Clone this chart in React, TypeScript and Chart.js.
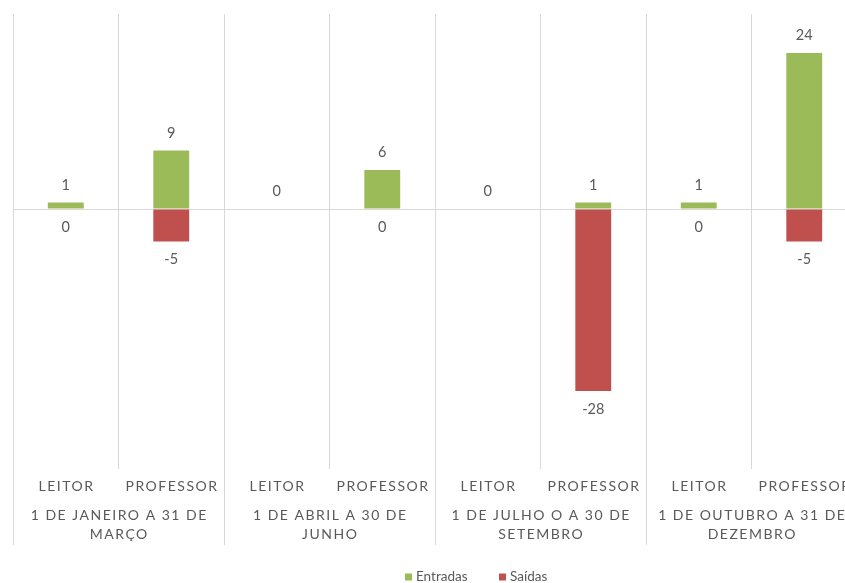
import React, { useEffect, useRef } from "react";
import { Chart, registerables } from "chart.js";

Chart.register(...registerables);

const leafLabels = ["LEITOR", "PROFESSOR", "LEITOR", "PROFESSOR", "LEITOR", "PROFESSOR", "LEITOR", "PROFESSOR"];
const groupLabels = [
  ["1 DE JANEIRO A 31 DE", "MARÇO"],
  ["1 DE ABRIL A 30 DE", "JUNHO"],
  ["1 DE JULHO O A 30 DE", "SETEMBRO"],
  ["1 DE OUTUBRO A 31 DE", "DEZEMBRO"],
];
const entradas: (number | null)[] = [1, 9, 0, 6, 0, 1, 1, 24];
const saidas: (number | null)[] = [0, -5, null, 0, null, -28, 0, -5];
const seriesNames = ["Entradas", "Saídas"];
const seriesColors = ["#9BBB59", "#C0504D"];
const yMin = -40;
const yMax = 30;

const TEXT = "#595959";
const GRID = "#D9D9D9";
const FONT = "Lato, 'Open Sans', sans-serif";

const customPlugin = {
  id: "customDraw",
  afterDraw(chart: any) {
    const ctx: CanvasRenderingContext2D = chart.ctx;
    const x = chart.scales.x;
    const yS = chart.scales.y;
    const area = chart.chartArea;
    ctx.save();
    // data labels
    ctx.font = `14.5px ${FONT}`;
    ctx.fillStyle = TEXT;
    ctx.textAlign = "center";
    ctx.textBaseline = "middle";
    chart.data.datasets.forEach((ds: any, di: number) => {
      ds.data.forEach((v: number | null, i: number) => {
        if (v === null || v === undefined) return;
        const py = yS.getPixelForValue(v);
        const y = di === 1 ? py + 18 : py - 17.5;
        ctx.fillText(String(v), x.getPixelForValue(i), y);
      });
    });

    // category labels
    const half = (x.getPixelForValue(1) - x.getPixelForValue(0)) / 2;
    (ctx as any).letterSpacing = "1.5px";
    ctx.font = `14px ${FONT}`;
    leafLabels.forEach((l, i) => {
      ctx.fillText(l, x.getPixelForValue(i) + 0.75, area.bottom + 17);
    });
    groupLabels.forEach((lines, g) => {
      const cx = (x.getPixelForValue(2 * g) + x.getPixelForValue(2 * g + 1)) / 2 + 0.75;
      lines.forEach((t, k) => {
        ctx.fillText(t, cx, area.bottom + 46 + k * 19);
      });
    });
    (ctx as any).letterSpacing = "0px";

    // group separators
    ctx.strokeStyle = GRID;
    ctx.lineWidth = 1;
    for (let g = 0; g <= groupLabels.length; g++) {
      const px = Math.round(x.getPixelForValue(2 * g) - half) + 0.5;
      ctx.beginPath();
      ctx.moveTo(px, area.bottom);
      ctx.lineTo(px, area.bottom + 76);
      ctx.stroke();
    }

    // legend
    ctx.font = `13.5px ${FONT}`;
    ctx.textAlign = "left";
    const ly = 577;
    let lx = 405;
    seriesNames.forEach((name, i) => {
      ctx.fillStyle = seriesColors[i];
      ctx.fillRect(lx, ly - 3.5, 7, 7);
      ctx.fillStyle = TEXT;
      ctx.fillText(name, lx + 11, ly);
      lx += 94;
    });
    ctx.restore();
  },
};

export default function App() {
  const ref = useRef<HTMLCanvasElement | null>(null);
  useEffect(() => {
    if (!ref.current) return;
    const chart = new Chart(ref.current, {
      type: "bar",
      data: {
        labels: leafLabels,
        datasets: [
          {
            label: seriesNames[0],
            data: entradas,
            backgroundColor: seriesColors[0],
            categoryPercentage: 1,
            barPercentage: 0.34,
          },
          {
            label: seriesNames[1],
            data: saidas,
            backgroundColor: seriesColors[1],
            categoryPercentage: 1,
            barPercentage: 0.34,
          },
        ],
      },
      options: {
        responsive: false,
        animation: false,
        layout: { padding: { left: 13, top: 14, right: 13, bottom: 114 } },
        plugins: {
          legend: { display: false },
          tooltip: { enabled: false },
          title: { display: false },
        },
        scales: {
          x: {
            stacked: true,
            grid: { color: GRID, offset: true, drawTicks: false },
            border: { display: false },
            ticks: { display: false },
            afterFit: (s: any) => {
              s.height = 0;
            },
          },
          y: {
            stacked: true,
            min: yMin,
            max: yMax,
            ticks: { display: false, stepSize: 10 },
            border: { display: false },
            grid: {
              drawTicks: false,
              color: (c: any) => (c.tick && c.tick.value === 0 ? GRID : "rgba(0,0,0,0)"),
            },
            afterFit: (s: any) => {
              s.width = 0;
            },
          },
        },
      },
      plugins: [customPlugin],
    });
    return () => chart.destroy();
  }, []);
  return (
    <div
      style={{
        position: "fixed",
        left: 0,
        top: 0,
        width: 845,
        height: 583,
        overflow: "hidden",
        background: "#fff",
      }}
    >
      <canvas ref={ref} width={870} height={583} style={{ display: "block" }} />
    </div>
  );
}
